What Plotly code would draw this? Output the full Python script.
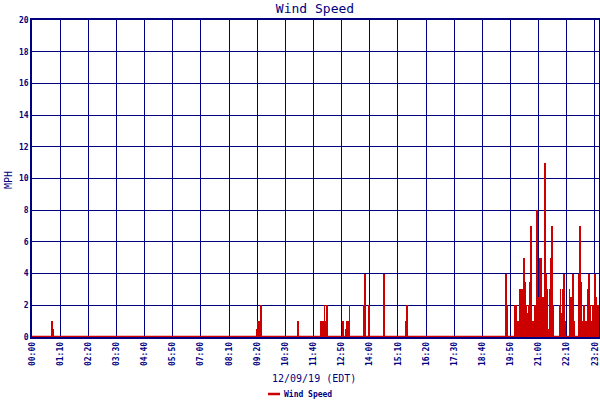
import plotly.graph_objects as go

# Wind speed spikes: minute of day and value (MPH)
minutes = [50, 53,
           560, 562, 567, 570, 662, 719, 722, 724, 727, 731, 734,
           773, 775, 780, 784, 788, 790, 826, 828, 838, 874, 876, 930, 933,
           1179, 1181, 1201, 1205, 1209, 1212, 1214, 1216, 1219, 1221, 1224, 1226,
           1228, 1230, 1233, 1235, 1236, 1239, 1241, 1244, 1247, 1251, 1255, 1256,
           1260, 1262, 1265, 1268, 1270, 1273, 1276, 1278, 1280, 1282, 1286, 1288,
           1291, 1293, 1296, 1312, 1314, 1317, 1319, 1323, 1327, 1337, 1340, 1343,
           1346, 1348, 1360, 1363, 1365, 1368, 1373, 1378, 1383, 1385, 1388, 1391,
           1395, 1398, 1400, 1403, 1405, 1408, 1409]
speeds = [1, 0.5,
          0.5, 1, 1, 2, 1, 1, 0.5, 1, 2, 1, 2,
          1, 0.5, 0.5, 1, 1, 2, 2, 4, 2, 2, 4, 1, 2,
          4, 2, 2, 2, 1, 0.5, 3, 1.5, 3, 3, 5, 3.5,
          1, 2, 1.5, 2, 1.5, 3.5, 7, 1, 1, 2, 1, 8,
          2.5, 5, 5, 1, 2.5, 1, 11, 4, 3, 2, 0.5, 3,
          5, 7, 2, 2, 3, 1.5, 3, 4, 1, 3, 2.5, 2.5,
          4, 1, 4, 7, 3.5, 1, 2, 1, 3, 4, 2, 1,
          2, 2, 4, 2.5, 2, 1, 2]

tick_vals = [0, 70, 140, 210, 280, 350, 420, 490, 560, 630, 700, 770, 840, 910,
             980, 1050, 1120, 1190, 1260, 1330, 1400, 1409]
tick_text = ["00:00", "01:10", "02:20", "03:30", "04:40", "05:50", "07:00", "08:10",
             "09:20", "10:30", "11:40", "12:50", "14:00", "15:10", "16:20", "17:30",
             "18:40", "19:50", "21:00", "22:10", "23:20", "23:29"]
y_ticks = [0, 2, 4, 6, 8, 10, 12, 14, 16, 18, 20]

NAVY = "#000080"
RED = "#cc0000"
MONO = "DejaVu Sans Mono"
X_END = 1410

fig = go.Figure()
fig.add_trace(go.Bar(x=minutes, y=speeds, width=1.6, marker=dict(color=RED, line=dict(width=0)),
                     showlegend=False, hoverinfo="x+y"))
fig.add_trace(go.Scatter(x=[0, X_END], y=[0, 0], mode="lines",
                         line=dict(color=RED, width=2.5), showlegend=False, cliponaxis=False))

fig.update_layout(
    width=600, height=400,
    margin=dict(l=32, r=1, t=20, b=63, autoexpand=False),
    paper_bgcolor="white", plot_bgcolor="white",
    title=dict(text="Wind Speed", x=315 / 600, xanchor="center",
               y=1 - 8 / 400, yanchor="middle", automargin=False,
               font=dict(family=MONO, size=13, color=NAVY)),
    xaxis=dict(range=[0, X_END], tickmode="array", tickvals=tick_vals,
               ticktext=["<b>%s</b>" % t for t in tick_text],
               tickangle=-90, tickfont=dict(family=MONO, size=8, color=NAVY),
               showgrid=True, gridcolor=NAVY, gridwidth=1.4, automargin=False,
               showline=True, linecolor=NAVY, linewidth=1.5, mirror=True,
               ticks="", zeroline=False),
    yaxis=dict(range=[0, 20], tickmode="array", tickvals=y_ticks,
               ticktext=["<b>%d</b>" % v for v in y_ticks],
               tickfont=dict(family=MONO, size=8, color=NAVY),
               showgrid=True, gridcolor=NAVY, gridwidth=1.4, automargin=False,
               showline=True, linecolor=NAVY, linewidth=1.5, mirror=True,
               ticks="", zeroline=False),
    bargap=0,
)

def px_x(px):
    return (px - 32) / 567

def px_y(py):
    return (337 - py) / 317

# axis titles
fig.add_annotation(text="12/09/19 (EDT)", xref="paper", yref="paper", x=px_x(314), y=px_y(378),
                   xanchor="center", yanchor="middle", showarrow=False,
                   font=dict(family=MONO, size=10, color=NAVY))
fig.add_annotation(text="MPH", xref="paper", yref="paper", x=px_x(8), y=px_y(180),
                   xanchor="center", yanchor="middle", textangle=-90, showarrow=False,
                   font=dict(family=MONO, size=10, color=NAVY))

# manual legend
fig.add_shape(type="line", xref="paper", yref="paper",
              x0=px_x(268), x1=px_x(280), y0=px_y(394), y1=px_y(394),
              line=dict(color=RED, width=2.5))
fig.add_annotation(text="<b>Wind Speed</b>", xref="paper", yref="paper",
                   x=px_x(282), y=px_y(394), xanchor="left", yanchor="middle",
                   showarrow=False, font=dict(family=MONO, size=8, color=NAVY))

fig.write_html("out.html", config={"displayModeBar": False},
               post_script="document.body.style.margin='0';")
